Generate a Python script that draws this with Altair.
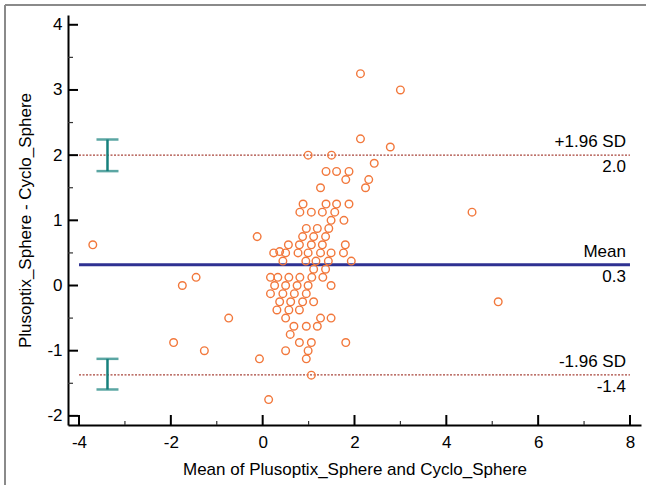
import altair as alt
import pandas as pd

# Mean of the two methods (x) and their difference (y)
mean_vals = [
    2.13, 3.00, 2.13, 2.78, 2.43, 0.99, 1.50,
    1.38, 1.61, 1.88, 1.81, 2.31, 1.26, 2.24,
    0.88, 1.38, 1.61, 1.88,
    0.81, 1.06, 1.30, 1.57,
    1.49, 1.77,
    0.95, 1.19, 1.44,
    -0.12, 0.87, 1.11, 1.37,
    0.56, 0.80, 1.06, 1.30, 1.80,
    0.24, 0.37, 0.50, 0.77, 0.99, 1.26, 1.49, 1.76,
    0.44, 0.94, 1.16, 1.43, 1.93,
    1.11, 1.37,
    0.17, 0.33, 0.57, 0.81, 1.07, 1.31,
    0.26, 0.50, 0.75, 0.99, 1.49,
    0.17, 0.44, 0.69, 0.95,
    0.37, 0.61, 0.87, 1.11,
    0.31, 0.57, 0.80,
    0.50, 1.26, 1.49,
    0.68, 0.95, 1.19,
    0.60,
    0.80, 1.06, 1.81,
    0.50, 0.99,
    0.95,
    1.06,
    0.13,
    -3.70, -1.75, -1.45, -0.74, -1.94, -1.27, -0.07, 4.56, 5.13,
]
diff_vals = [
    3.25, 3.00, 2.25, 2.125, 1.875, 2.0, 2.0,
    1.75, 1.75, 1.75, 1.625, 1.625, 1.5, 1.5,
    1.25, 1.25, 1.25, 1.25,
    1.125, 1.125, 1.125, 1.125,
    1.0, 1.0,
    0.875, 0.875, 0.875,
    0.75, 0.75, 0.75, 0.75,
    0.625, 0.625, 0.625, 0.625, 0.625,
    0.5, 0.52, 0.5, 0.5, 0.5, 0.5, 0.5, 0.5,
    0.375, 0.375, 0.375, 0.375, 0.375,
    0.25, 0.25,
    0.125, 0.125, 0.125, 0.125, 0.125, 0.125,
    0.0, 0.0, 0.0, 0.0, 0.0,
    -0.125, -0.125, -0.125, -0.125,
    -0.25, -0.25, -0.25, -0.25,
    -0.375, -0.375, -0.375,
    -0.5, -0.5, -0.5,
    -0.625, -0.625, -0.625,
    -0.75,
    -0.875, -0.875, -0.875,
    -1.0, -1.0,
    -1.125,
    -1.375,
    -1.75,
    0.625, 0.0, 0.125, -0.5, -0.875, -1.0, -1.125, 1.125, -0.25,
]

# Reference lines
ref_values = [2.0, 0.32, -1.37]
ref_names = ["+1.96 SD", "Mean", "-1.96 SD"]
ref_numbers = ["2.0", "0.3", "-1.4"]
line_start, line_end = -4, 8

# Confidence intervals of the limits of agreement
ci_x = -3.38
ci_low = [1.755, -1.595]
ci_high = [2.24, -1.125]

# Axis ticks
x_major = [-4, -2, 0, 2, 4, 6, 8]
x_minor = [-3, -1, 1, 3, 5, 7]
y_major = [-2, -1, 0, 1, 2, 3, 4]
y_minor = [-1.5, -0.5, 0.5, 1.5, 2.5, 3.5]

x_domain = [-4.24, 8.24]
y_domain = [-2.14, 4.15]

W, H = 573, 410
FONT = "Liberation Sans"
ORANGE = "#f2783c"
NAVY = "#2e3192"
DOTRED = "#a8443a"
TEAL = "#16807c"

xs = alt.Scale(domain=x_domain, nice=False, zero=False)
ys = alt.Scale(domain=y_domain, nice=False, zero=False)

pts = pd.DataFrame({"m": mean_vals, "d": diff_vals})

points = alt.Chart(pts).mark_point(
    shape="circle", filled=False, size=58, strokeWidth=1.4, color=ORANGE, opacity=1
).encode(
    x=alt.X("m:Q", scale=xs, axis=alt.Axis(
        title="Mean of Plusoptix_Sphere and Cyclo_Sphere",
        values=x_major, ticks=False, grid=False, domainWidth=2, domainColor="black",
        labelFont=FONT, labelFontSize=17, labelColor="black", labelPadding=9,
        labelExpr="'' + datum.value",
        titleFont=FONT, titleFontSize=17, titleFontWeight="normal", titleColor="black",
        titlePadding=11)),
    y=alt.Y("d:Q", scale=ys, axis=alt.Axis(
        title="Plusoptix_Sphere - Cyclo_Sphere",
        values=y_major, ticks=False, grid=False, domainWidth=2, domainColor="black",
        labelFont=FONT, labelFontSize=17, labelColor="black", labelPadding=6,
        labelExpr="'' + datum.value",
        titleFont=FONT, titleFontSize=17, titleFontWeight="normal", titleColor="black",
        titlePadding=12)),
)

refs = pd.DataFrame({"y": ref_values, "name": ref_names, "num": ref_numbers,
                     "x0": [line_start] * 3, "x1": [line_end] * 3})

mean_line = alt.Chart(refs[refs["name"] == "Mean"]).mark_rule(
    color=NAVY, strokeWidth=3
).encode(x=alt.X("x0:Q", scale=xs), x2="x1:Q", y=alt.Y("y:Q", scale=ys))

sd_lines = alt.Chart(refs[refs["name"] != "Mean"]).mark_rule(
    color=DOTRED, strokeWidth=1.3, strokeDash=[2, 1.5]
).encode(x=alt.X("x0:Q", scale=xs), x2="x1:Q", y=alt.Y("y:Q", scale=ys))

name_text = alt.Chart(refs).mark_text(
    align="right", baseline="alphabetic", dx=-4, dy=-8, font=FONT, fontSize=17, color="black"
).encode(x=alt.X("x1:Q", scale=xs), y=alt.Y("y:Q", scale=ys), text="name:N")

num_text = alt.Chart(refs).mark_text(
    align="right", baseline="alphabetic", dx=-4, dy=17, font=FONT, fontSize=17, color="black"
).encode(x=alt.X("x1:Q", scale=xs), y=alt.Y("y:Q", scale=ys), text="num:N")

ci = pd.DataFrame({"x": [ci_x] * 2, "lo": ci_low, "hi": ci_high})
ci_bar = alt.Chart(ci).mark_rule(color=TEAL, strokeWidth=2.5).encode(
    x=alt.X("x:Q", scale=xs), y=alt.Y("lo:Q", scale=ys), y2="hi:Q")
caps = pd.DataFrame({"x": [ci_x] * 4, "y": ci_low + ci_high})
ci_caps = alt.Chart(caps).mark_tick(
    color=TEAL, thickness=2.5, size=22, orient="horizontal"
).encode(x=alt.X("x:Q", scale=xs), y=alt.Y("y:Q", scale=ys))

xt_major = alt.Chart(pd.DataFrame({"v": x_major})).mark_rule(color="black", strokeWidth=2).encode(
    x=alt.X("v:Q", scale=xs), y=alt.value(H), y2=alt.value(H - 10))
xt_minor = alt.Chart(pd.DataFrame({"v": x_minor})).mark_rule(color="#333", strokeWidth=1.2).encode(
    x=alt.X("v:Q", scale=xs), y=alt.value(H), y2=alt.value(H - 4))
yt_major = alt.Chart(pd.DataFrame({"v": y_major})).mark_rule(color="black", strokeWidth=2).encode(
    y=alt.Y("v:Q", scale=ys), x=alt.value(0), x2=alt.value(10))
yt_minor = alt.Chart(pd.DataFrame({"v": y_minor})).mark_rule(color="#333", strokeWidth=1.2).encode(
    y=alt.Y("v:Q", scale=ys), x=alt.value(0), x2=alt.value(5))

# outer picture frame (left and top edges)
frame_left = alt.Chart(pd.DataFrame({"a": [0]})).mark_rule(color="#8a8a8a", strokeWidth=2).encode(
    x=alt.value(-63), y=alt.value(-10), y2=alt.value(H + 70))
frame_top = alt.Chart(pd.DataFrame({"a": [0]})).mark_rule(color="#8a8a8a", strokeWidth=2).encode(
    y=alt.value(-10), x=alt.value(-63), x2=alt.value(W + 10))

chart = alt.layer(
    frame_left, frame_top,
    sd_lines, mean_line, name_text, num_text, ci_bar, ci_caps,
    xt_major, xt_minor, yt_major, yt_minor, points,
).properties(
    width=W, height=H,
    autosize=alt.AutoSizeParams(type="none"),
    padding={"left": 68, "top": 15, "right": 5, "bottom": 60},
    background="white",
).configure_view(stroke=None)

chart.save("out.html", embed_options={"renderer": "svg", "actions": False})
